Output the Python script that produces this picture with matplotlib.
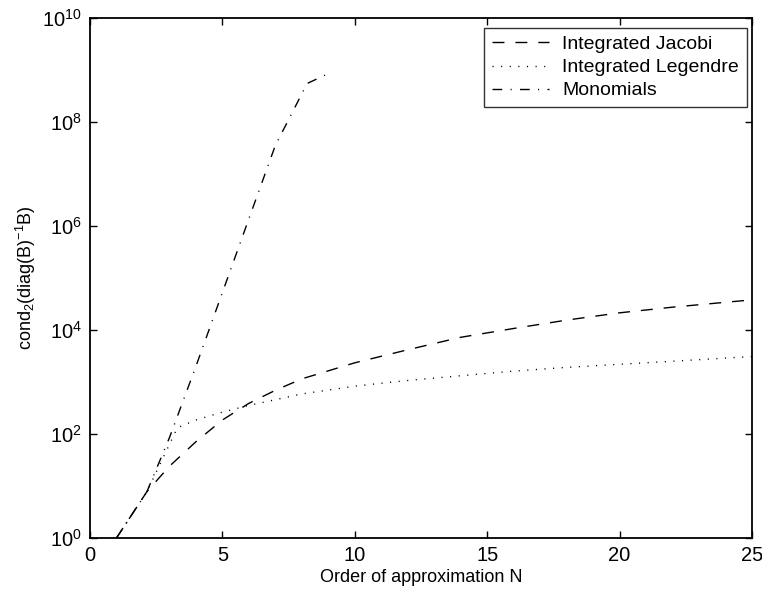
import numpy as np
import matplotlib
matplotlib.use('Agg')
import matplotlib.pyplot as plt

# Values (y is log scale)
jacobi_n = [1, 2.15, 3, 4, 5, 6, 7, 8, 10, 12, 14, 16, 18, 20, 22, 25]
jacobi_cond = [1, 7.8, 24, 71, 186, 389, 692, 1150, 2340, 4170, 7240,
               10700, 15500, 21400, 27500, 38000]

legendre_n = [1, 2.15, 3.3, 4, 5, 6, 7, 8, 10, 12, 14, 16, 18, 20, 22, 25]
legendre_cond = [1, 7.8, 132, 186, 263, 355, 457, 589, 832, 1070, 1320,
                 1620, 1910, 2190, 2510, 3090]

mono_n = [1, 2.15, 3, 4, 5, 6, 7, 8.2, 8.95]
mono_cond = [1, 7.8, 85, 2000, 52500, 1.38e6, 3.55e7, 5.5e8, 8.3e8]

yticks = [1e0, 1e2, 1e4, 1e6, 1e8, 1e10]
ytick_labels = ['$10^{%d}$' % int(np.log10(v)) for v in yticks]
xticks = [0, 5, 10, 15, 20, 25]


def main():
    plt.rcParams['font.family'] = ['Liberation Sans', 'DejaVu Sans']
    plt.rcParams['mathtext.fontset'] = 'custom'
    plt.rcParams['mathtext.rm'] = 'Liberation Sans'
    plt.rcParams['mathtext.it'] = 'Liberation Sans:italic'

    fig = plt.figure(figsize=(7.62, 5.91), dpi=100)
    ax = fig.add_axes([90 / 762, 53 / 591, 662 / 762, 520 / 591])

    ax.plot(jacobi_n, jacobi_cond, color='k', lw=1.0,
            dashes=(8.6, 7.9), label='Integrated Jacobi')
    ax.plot(legendre_n, legendre_cond, color='k', lw=1.0,
            dashes=(0.8, 5.4), label='Integrated Legendre')
    ax.plot(mono_n, mono_cond, color='k', lw=1.0,
            dashes=(7, 6, 0.8, 6), label='Monomials')

    ax.set_yscale('log')
    ax.set_xlim(0, 25)
    ax.set_ylim(1e0, 1e10)
    ax.set_xticks(xticks)
    ax.set_yticks(yticks)
    ax.set_yticklabels(ytick_labels)
    ax.minorticks_off()
    ax.tick_params(direction='in', length=5, width=1, labelsize=14.5,
                   top=True, right=True, pad=6)
    for s in ax.spines.values():
        s.set_linewidth(1.3)

    ax.set_xlabel('Order of approximation N', fontsize=13, labelpad=3)
    ax.set_ylabel('cond$_2$(diag(B)$^{-1}$B)', fontsize=13, labelpad=3)

    leg = ax.legend(loc='upper right', bbox_to_anchor=(0.992, 0.981),
                    fontsize=14, frameon=True, fancybox=False,
                    edgecolor='k', handlelength=2.9, handletextpad=0.7,
                    borderpad=0.4, labelspacing=0.28, borderaxespad=0)
    leg.get_frame().set_linewidth(1.0)

    fig.savefig('out.png', dpi=100)
    return 0


if __name__ == '__main__':
    main()
